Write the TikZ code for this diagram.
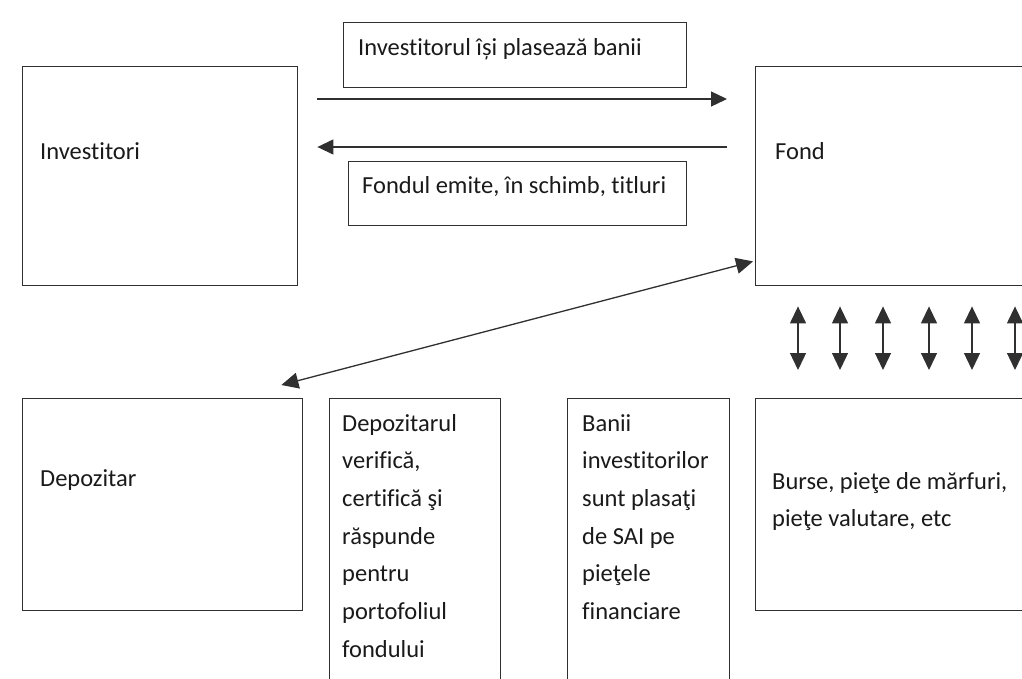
\documentclass[tikz,border=0pt]{standalone}
\usepackage{fontspec}
\setmainfont{Carlito}[Ligatures={NoCommon}]
\usetikzlibrary{arrows.meta,calc}
\definecolor{lc}{HTML}{303030}
\definecolor{tc}{HTML}{1A1A1A}
\begin{document}
\begin{tikzpicture}[x=1pt,y=-1pt,
  box/.style={draw=lc,line width=1.4pt,inner sep=0pt,anchor=north west},
  txt/.style={text=tc,inner sep=0pt,font=\fontsize{24.5}{37.7}\selectfont,align=left,anchor=base west},
  conn/.style={draw=lc,line width=1.3pt,-{Triangle[length=16pt,width=15pt]}},
  dconn/.style={draw=lc,line width=1.3pt,{Triangle[length=17pt,width=16pt]}-{Triangle[length=17pt,width=16pt]}}]
\useasboundingbox[fill=white] (0,0) rectangle (1022,678);
\clip (0,0) rectangle (1022,678);
% boxes
\node[box,minimum width=275pt,minimum height=219pt] (inv) at (22,66) {};
\node[box,minimum width=290pt,minimum height=219pt] (fond) at (755,66) {};
\node[box,minimum width=343pt,minimum height=65pt] (lbl1) at (343,22) {};
\node[box,minimum width=338pt,minimum height=64pt] (lbl2) at (348,161) {};
\node[box,minimum width=280pt,minimum height=212pt] (dep) at (22,398) {};
\node[box,minimum width=171pt,minimum height=320pt] (depz) at (329,398) {};
\node[box,minimum width=162pt,minimum height=320pt] (banii) at (567,398) {};
\node[box,minimum width=290pt,minimum height=212pt] (burse) at (755,398) {};
% texts (multi-line nodes are anchored at the baseline of their last line)
\node[txt] (tinv) at (40,159) {Investitori};
\node[txt] (tfond) at (775,159) {Fond};
\node[txt] (tl1) at (358,55) {Investitorul își plasează banii};
\node[txt] (tl2) at (362,193) {Fondul emite, în schimb, titluri};
\node[txt] (tdep) at (40,486) {Depozitar};
\node[txt] (tdepz) at (342,657.2) {Depozitarul\\verifică,\\certifică şi\\răspunde\\pentru\\portofoliul\\fondului};
\node[txt] (tbanii) at (582,619.5) {Banii\\investitorilor\\sunt plasaţi\\de SAI pe\\pieţele\\financiare};
\node[txt] (tburse) at (772,526.7) {Burse, pieţe de mărfuri,\\pieţe valutare, etc};
% connectors
\draw[conn] ($(inv.north east)+(19,33)$) -- ($(fond.north west)+(-28,33)$);
\draw[conn] ($(fond.north west)+(-28,81)$) -- ($(inv.north east)+(19,81)$);
\draw[dconn] ($(fond.south west)+(-2,-25)$) -- ($(dep.north east)+(-22,-13)$);
\foreach \x in {798,840,883,929,972,1015}
  \draw[dconn,shorten <=20pt,shorten >=28pt] (\x,0 |- fond.south) -- (\x,0 |- burse.north);
\end{tikzpicture}
\end{document}
